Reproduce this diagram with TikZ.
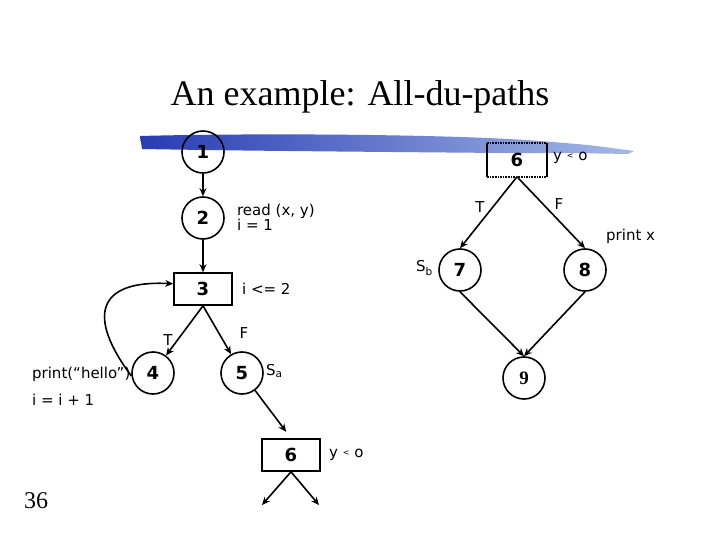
\documentclass[tikz,border=0pt]{standalone}
\usepackage{fontspec}
\setmainfont{Liberation Serif}
\setsansfont{DejaVu Sans}
\usetikzlibrary{arrows.meta}
\definecolor{swooshL}{RGB}{40,60,180}
\definecolor{swooshR}{RGB}{165,185,230}

\begin{document}
\begin{tikzpicture}[x=1pt, y=-1pt, line width=1.6pt,
    every node/.style={font=\sffamily\fontsize{15}{18}\selectfont},
    cnode/.style={draw, circle, minimum size=42pt, inner sep=0pt,
        font=\sffamily\bfseries\fontsize{18}{20}\selectfont},
    bnode/.style={draw, rectangle, minimum width=58pt, minimum height=32pt,
        inner sep=0pt, font=\sffamily\bfseries\fontsize{18}{20}\selectfont},
    arr/.style={-{Stealth[length=8pt, width=7pt]}}]
    \useasboundingbox[fill=white] (0,0) rectangle (720,540);

    % 标题下的蓝色笔刷
    \shade[left color=swooshL, right color=swooshR, draw=none]
        (140,136) .. controls (250,133) and (450,134) .. (540,141)
        .. controls (590,145) .. (634,151)
        -- (628,154) .. controls (570,153) .. (500,153)
        .. controls (400,152) and (250,151) .. (142,149) -- cycle;

    % 标题与页码
    \node[anchor=base, font=\rmfamily\fontsize{36}{40}\selectfont] (title) at (360,106) {An example: All-du-paths};
    \node[anchor=base, font=\rmfamily\fontsize{24}{28}\selectfont] (page) at (36,508) {36};

    % 左边的流程图
    \node[cnode] (n1) at (203,152) {1};
    \node[cnode] (n2) at (203,218) {2};
    \node[bnode] (n3) at (203,289) {3};
    \node[cnode] (n4) at (153,373) {4};
    \node[cnode] (n5) at (242,373) {5};
    \node[bnode] (n6b) at (291,455) {6};
    \coordinate (o1) at (262,505);
    \coordinate (o2) at (319,505);

    \draw[arr] (n1) -- (n2);
    \draw[arr] (n2) -- (n3);
    \draw[arr] (n3.south) -- (n4);
    \draw[arr] (n3.south) -- (n5);
    \draw[arr, shorten >=8pt] (n5) -- (n6b.north);
    \draw[arr] (n6b.south) -- (o1);
    \draw[arr] (n6b.south) -- (o2);
    % 回到 3 的环
    \draw[arr] (n4.188) .. controls (88,318) and (95,280) .. (n3.170);

    \node[anchor=west, align=left] (l2) at (233,217) {read (x, y)\\[-3pt]i = 1};
    \node[anchor=west] (l3) at (238,289) {i <= 2};
    \node (t4) at (168,340) {T};
    \node (f5) at (244,333) {F};
    \node[anchor=west] (l4a) at (28,374) {print(“hello”)};
    \node[anchor=west] (l4b) at (28,400) {i = i + 1};
    \node[anchor=west] (sa) at (262,371) {S\textsubscript{a}};
    \node[anchor=west] (l6b) at (325,455) {y \raisebox{2pt}{\footnotesize<} o};

    % 右边的流程图
    \node[bnode, draw=none] (n6a) at (517,160) {6};
    \draw (n6a.north west) -- (n6a.south west);
    \draw (n6a.north east) -- (n6a.south east);
    \draw[densely dotted] (n6a.north west) -- (n6a.north east);
    \draw[densely dotted] (n6a.south west) -- (n6a.south east);
    \node[cnode] (n7) at (460,270) {7};
    \node[cnode] (n8) at (585,270) {8};
    \node[cnode, font=\rmfamily\bfseries\fontsize{19}{21}\selectfont] (n9) at (524,378) {9};

    \draw[arr] (n6a.south) -- (n7.north);
    \draw[arr] (n6a.south) -- (n8.north);
    \draw[arr] (n7.south) -- (n9.north);
    \draw[arr] (n8.south) -- (n9.north);

    \node[anchor=west] (l6a) at (549,158) {y \raisebox{2pt}{\footnotesize<} o};
    \node (t7) at (480,207) {T};
    \node (f8) at (559,204) {F};
    \node[anchor=west] (l8) at (602,236) {print x};
    \node[anchor=east] (sb) at (437,268) {S\textsubscript{b}};
\end{tikzpicture}
\end{document}
